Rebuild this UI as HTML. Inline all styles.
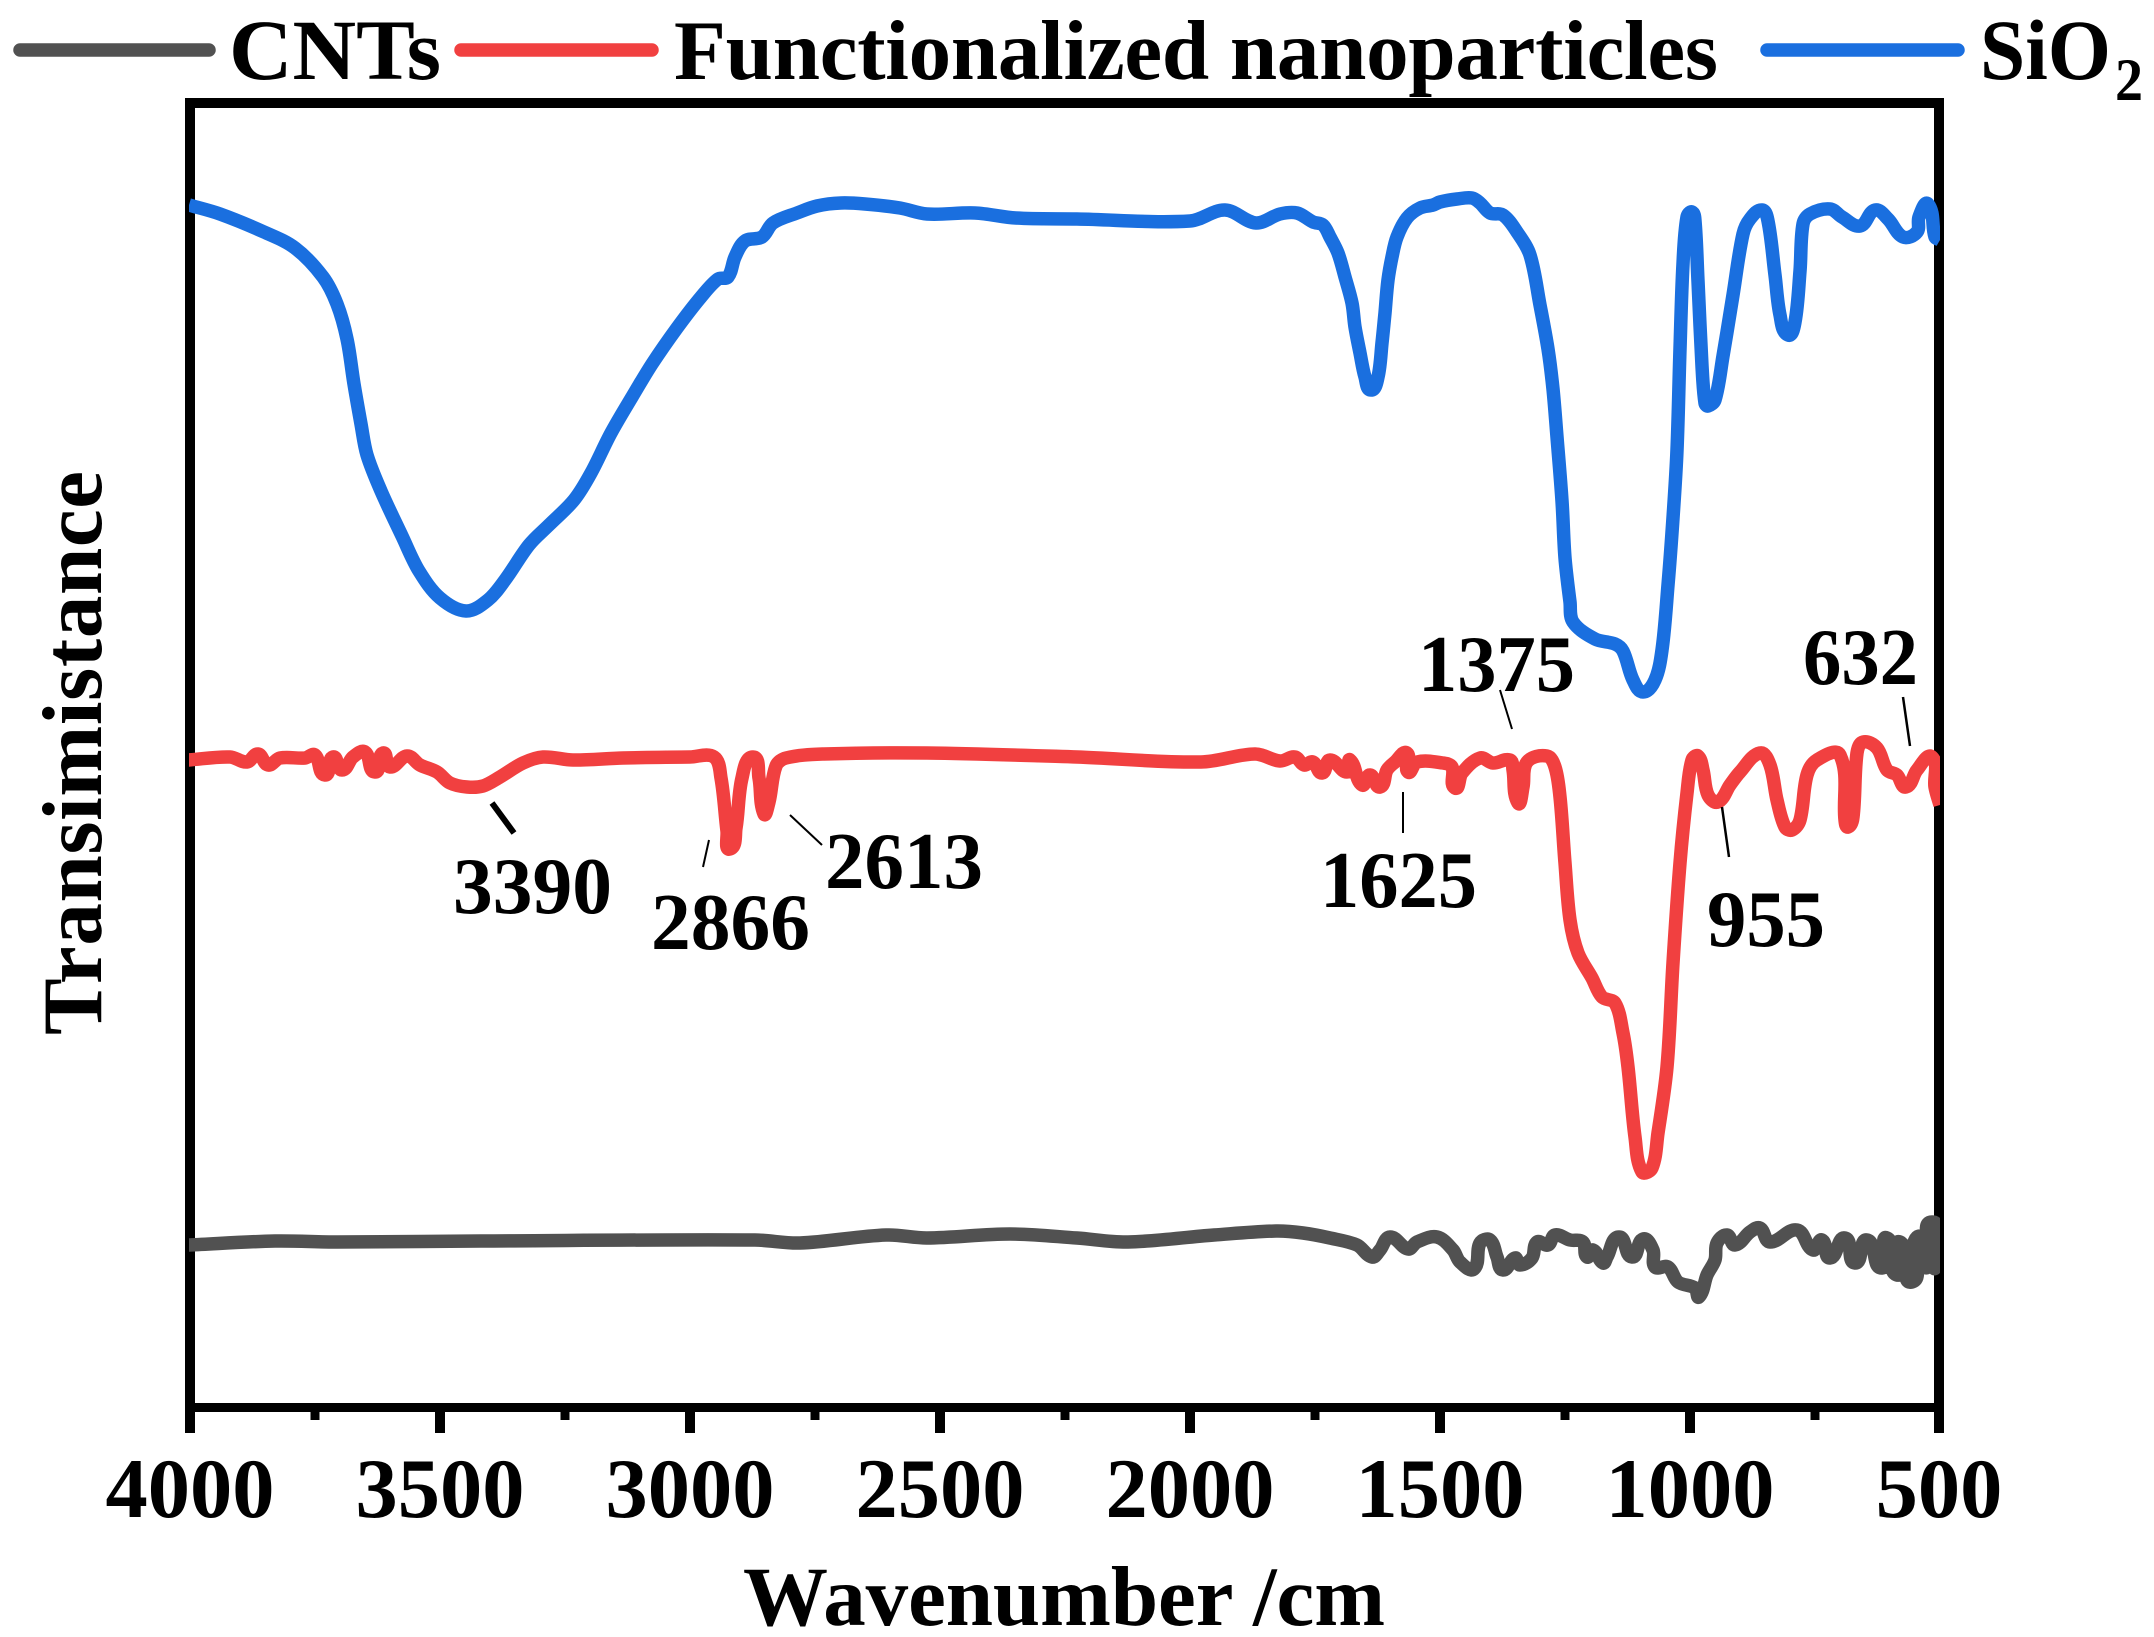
<!DOCTYPE html>
<html lang="en">
<head>
<meta charset="utf-8">
<title>FTIR spectra</title>
<style>
html,body{margin:0;padding:0;background:#fff;}
svg{display:block;}
text{font-family:"Liberation Serif",serif;font-weight:bold;fill:#000;}
</style>
</head>
<body>
<svg id="chart" xmlns="http://www.w3.org/2000/svg" width="2154" height="1637" viewBox="0 0 2154 1637">
  <rect x="0" y="0" width="2154" height="1637" fill="#fff"/>
  <defs><clipPath id="plot-clip"><rect x="189" y="100" width="1751" height="1310"/></clipPath></defs>
  <g id="frame"></g>
  <g id="ticks"></g>
  <g id="series" clip-path="url(#plot-clip)"></g>

  <g>
    <line x1="20" y1="50" x2="209" y2="50" stroke="#515151" stroke-width="13.5" stroke-linecap="round"/>
    <text x="229" y="79" font-size="86" textLength="212" lengthAdjust="spacingAndGlyphs">CNTs</text>
    <line x1="461" y1="50" x2="652" y2="50" stroke="#F14040" stroke-width="13.5" stroke-linecap="round"/>
    <text x="674" y="79" font-size="85" textLength="1044" lengthAdjust="spacing">Functionalized nanoparticles</text>
    <line x1="1767" y1="50" x2="1958" y2="50" stroke="#1A6FDF" stroke-width="13.5" stroke-linecap="round"/>
    <text x="1980" y="79" font-size="86" textLength="131" lengthAdjust="spacingAndGlyphs">SiO</text>
    <text x="2115" y="100" font-size="60" textLength="28" lengthAdjust="spacingAndGlyphs">2</text>
  </g>

  <text x="743" y="1625" font-size="85" textLength="642" lengthAdjust="spacing">Wavenumber /cm</text>
  <text transform="translate(101,1035) rotate(-90)" x="0" y="0" font-size="85" textLength="564" lengthAdjust="spacing">Transimistance</text>

  <g>
    <line x1="492" y1="803" x2="514" y2="833" stroke="#000" stroke-width="6"/>
    <text x="453" y="913" font-size="80" textLength="159" lengthAdjust="spacingAndGlyphs">3390</text>
    <line x1="709" y1="840" x2="703" y2="867" stroke="#000" stroke-width="2"/>
    <text x="651" y="949" font-size="80" textLength="159" lengthAdjust="spacingAndGlyphs">2866</text>
    <line x1="790" y1="815" x2="822" y2="845" stroke="#000" stroke-width="2"/>
    <text x="825" y="888" font-size="80" textLength="158" lengthAdjust="spacingAndGlyphs">2613</text>
    <line x1="1403" y1="792" x2="1403" y2="833" stroke="#000" stroke-width="2"/>
    <text x="1320" y="907" font-size="80" textLength="157" lengthAdjust="spacingAndGlyphs">1625</text>
    <line x1="1500" y1="690" x2="1512" y2="729" stroke="#000" stroke-width="2"/>
    <text x="1418" y="691" font-size="80" textLength="157" lengthAdjust="spacingAndGlyphs">1375</text>
    <line x1="1722" y1="807" x2="1729" y2="857" stroke="#000" stroke-width="2.5"/>
    <text x="1707" y="946" font-size="80" textLength="118" lengthAdjust="spacingAndGlyphs">955</text>
    <line x1="1903" y1="697" x2="1910" y2="746" stroke="#000" stroke-width="2.5"/>
    <text x="1803" y="684" font-size="80" textLength="115" lengthAdjust="spacingAndGlyphs">632</text>
  </g>
</svg>

<script>
const majorTicks = [4000, 3500, 3000, 2500, 2000, 1500, 1000, 500];
const minorTicks = [3750, 3250, 2750, 2250, 1750, 1250, 750];

const sio2Wavenumber = [4002,3940,3852,3790,3734,3706,3686,3672,3658,3646,3618,3576,3542,3500,3448,3404,3370,3322,3282,3232,3198,3158,3116,3076,3026,2978,2944,2924,2910,2890,2856,2834,2786,2746,2698,2650,2580,2526,2430,2348,2226,2000,1930,1868,1820,1786,1754,1734,1720,1704,1690,1676,1670,1660,1650,1638,1624,1616,1610,1604,1596,1586,1566,1540,1514,1500,1466,1436,1420,1400,1374,1346,1320,1300,1284,1274,1266,1256,1250,1240,1234,1190,1150,1134,1114,1094,1070,1056,1044,1034,1026,1020,1014,1006,996,990,984,976,970,964,950,934,914,894,880,856,844,830,820,804,790,780,774,760,720,696,660,630,604,574,546,542,524,510,500];
const sio2Transmittance = [1203,1194,1176,1160,1131,1104,1069,1024,984,953,917,872,837,810,797,808,828,863,883,908,935,975,1011,1044,1080,1111,1129,1131,1151,1167,1171,1185,1195,1202,1205,1204,1200,1194,1195,1190,1189,1187,1198,1185,1194,1195,1186,1183,1171,1155,1131,1105,1081,1055,1031,1018,1031,1065,1095,1128,1151,1171,1190,1200,1203,1206,1209,1210,1205,1195,1193,1176,1153,1103,1059,1019,971,907,850,806,786,769,764,757,728,716,728,758,823,890,958,1059,1144,1191,1196,1187,1127,1042,1005,1002,1008,1052,1113,1174,1189,1198,1187,1133,1093,1073,1086,1137,1184,1194,1199,1191,1182,1198,1189,1171,1176,1191,1204,1171,1168];

const functionalizedWavenumber = [4004,3920,3886,3864,3844,3820,3770,3750,3730,3714,3696,3674,3650,3630,3614,3600,3566,3540,3506,3480,3446,3414,3380,3334,3294,3234,3134,3000,2952,2938,2926,2920,2908,2896,2874,2862,2852,2842,2828,2808,2732,2526,2226,1978,1870,1820,1790,1772,1754,1736,1720,1686,1680,1656,1640,1620,1606,1590,1566,1564,1546,1494,1476,1470,1456,1420,1394,1360,1354,1344,1334,1326,1286,1270,1260,1250,1240,1224,1196,1176,1150,1134,1124,1110,1096,1076,1064,1046,1034,1020,1006,996,984,974,964,944,920,900,860,840,826,810,796,780,766,746,700,690,684,674,666,654,626,606,586,568,546,516,510,500];
const functionalizedTransmittance = [648,651,646,654,643,650,650,653,633,651,638,651,656,636,655,641,652,643,636,625,621,622,631,645,651,648,650,651,651,630,577,559,580,630,651,630,594,606,642,650,654,655,651,646,654,647,651,643,646,635,648,636,648,623,633,621,638,646,655,636,646,645,641,620,635,650,645,648,638,605,621,646,652,641,611,545,488,455,430,411,405,375,341,271,236,240,275,341,445,545,615,648,652,638,613,606,623,636,655,643,608,581,578,588,633,648,653,588,581,591,655,666,660,638,633,621,638,651,621,603];

const cntsWavenumber = [4004,3830,3706,3418,2870,2780,2608,2526,2360,2226,2124,1952,1828,1774,1720,1666,1636,1620,1600,1564,1546,1506,1474,1460,1432,1420,1400,1386,1374,1350,1340,1316,1306,1284,1270,1240,1214,1206,1194,1174,1166,1142,1116,1094,1074,1070,1044,1024,990,982,966,950,946,926,910,880,860,840,786,754,736,720,690,670,646,616,606,586,580,556,546,524,516,514,506,500];
const cntsTransmittance = [163,167,166,167,168,165,173,170,174,170,166,173,177,175,170,163,151,158,171,159,166,171,158,146,139,165,168,151,138,150,143,150,166,163,173,168,166,151,158,145,151,171,151,169,158,141,141,126,120,111,133,148,165,173,163,176,180,166,178,158,168,150,170,145,168,140,170,133,166,126,171,141,186,141,178,145];

const NS = 'http://www.w3.org/2000/svg';
function xScale(wn) { return 190 + (4000 - wn) / 3500 * 1750; }
function yScale(t) { return 1408 - t / 1305 * 1305; }
function makeLine(x1, y1, x2, y2, width) {
  const l = document.createElementNS(NS, 'line');
  l.setAttribute('x1', x1);
  l.setAttribute('y1', y1);
  l.setAttribute('x2', x2);
  l.setAttribute('y2', y2);
  l.setAttribute('stroke', '#000');
  l.setAttribute('stroke-width', width);
  return l;
}
function makePath(wn, t, color) {
  const p = document.createElementNS(NS, 'path');
  const pts = wn.map(function (w, i) { return [xScale(w), yScale(t[i])]; });
  const n = pts.length;
  const tangents = pts.map(function (pt, i) {
    const a = pts[Math.max(i - 1, 0)];
    const b = pts[Math.min(i + 1, n - 1)];
    const dx = b[0] - a[0];
    const dy = b[1] - a[1];
    const len = Math.hypot(dx, dy) || 1;
    return [dx / len, dy / len];
  });
  let d = 'M' + pts[0][0].toFixed(1) + ' ' + pts[0][1].toFixed(1);
  for (let i = 0; i < n - 1; i++) {
    const a = pts[i];
    const b = pts[i + 1];
    const seg = Math.hypot(b[0] - a[0], b[1] - a[1]) / 3;
    d += ' C' + (a[0] + tangents[i][0] * seg).toFixed(1) + ' ' + (a[1] + tangents[i][1] * seg).toFixed(1)
      + ' ' + (b[0] - tangents[i + 1][0] * seg).toFixed(1) + ' ' + (b[1] - tangents[i + 1][1] * seg).toFixed(1)
      + ' ' + b[0].toFixed(1) + ' ' + b[1].toFixed(1);
  }
  p.setAttribute('d', d);
  p.setAttribute('fill', 'none');
  p.setAttribute('stroke', color);
  p.setAttribute('stroke-width', '13.5');
  p.setAttribute('stroke-linejoin', 'round');
  p.setAttribute('stroke-linecap', 'butt');
  return p;
}

const frame = document.getElementById('frame');
const spineTop = makeLine(185, 103, 1944, 103, 10);


frame.appendChild(spineTop);
const spineBottom = makeLine(185, 1407.5, 1944, 1407.5, 9);


frame.appendChild(spineBottom);
const spineLeft = makeLine(190, 98, 190, 1412, 10);


frame.appendChild(spineLeft);
const spineRight = makeLine(1939, 98, 1939, 1412, 10);


frame.appendChild(spineRight);

const ticks = document.getElementById('ticks');
majorTicks.forEach(function (v) {
  const tx = Math.min(xScale(v), 1939);
  const tick = makeLine(tx, 1408, tx, 1433, 10);
  
  
  ticks.appendChild(tick);
  const label = document.createElementNS(NS, 'text');
  label.setAttribute('x', tx);
  label.setAttribute('y', 1517);
  label.setAttribute('font-size', '84.5');
  label.setAttribute('text-anchor', 'middle');
  label.textContent = String(v);
  
  
  ticks.appendChild(label);
});
minorTicks.forEach(function (v) {
  const tx = xScale(v);
  const tick = makeLine(tx, 1408, tx, 1420, 9);
  
  
  ticks.appendChild(tick);
});

const series = document.getElementById('series');
const cntsLine = makePath(cntsWavenumber, cntsTransmittance, '#515151');


series.appendChild(cntsLine);
const functionalizedLine = makePath(functionalizedWavenumber, functionalizedTransmittance, '#F14040');


series.appendChild(functionalizedLine);
const sio2Line = makePath(sio2Wavenumber, sio2Transmittance, '#1A6FDF');


series.appendChild(sio2Line);
</script>
</body>
</html>
